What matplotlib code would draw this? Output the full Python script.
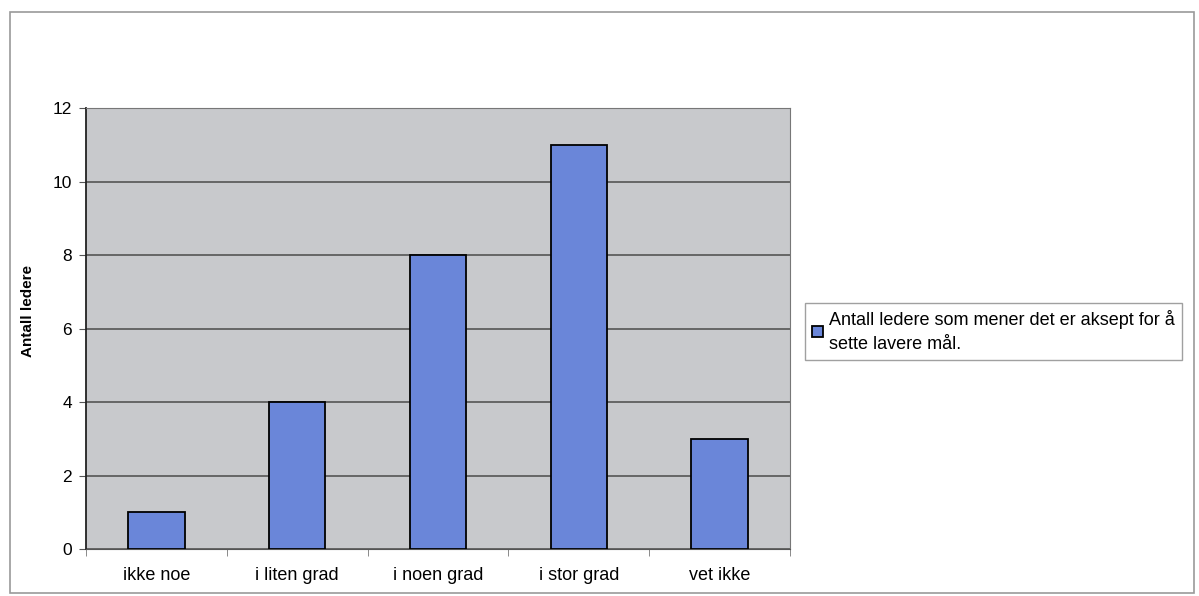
import matplotlib.pyplot as plt
from matplotlib.patches import Rectangle

categories = ["ikke noe", "i liten grad", "i noen grad", "i stor grad", "vet ikke"]
values = [1, 4, 8, 11, 3]
series_name = "Antall ledere som mener det er aksept for å\nsette lavere mål."
y_label = "Antall ledere"

plt.rcParams['font.family'] = ['Liberation Sans', 'DejaVu Sans']

fig = plt.figure(figsize=(11.99, 5.96), dpi=100)
ax = fig.add_axes([86 / 1199, 1 - 549 / 596, 704 / 1199, 441 / 596])

# outer chart border
fig.patches.append(Rectangle((10 / 1199, 3 / 596), 1184 / 1199, 581 / 596,
                             transform=fig.transFigure, fill=False,
                             edgecolor="#9a9a9a", linewidth=1.2))

ax.set_facecolor("#c8c9cc")
x = list(range(len(categories)))
bars = ax.bar(x, values, width=0.4, color="#6a86d9", edgecolor="black",
              linewidth=1.3, label=series_name, zorder=3)

ax.set_xlim(-0.5, len(categories) - 0.5)
ax.set_ylim(0, 12)
ax.set_yticks(range(0, 13, 2))
ax.yaxis.grid(True, color="#555555", linewidth=1.2, zorder=1)
ax.set_axisbelow(True)

ax.set_xticks(x)
ax.set_xticklabels(categories, fontsize=13)
ax.set_xticks([i - 0.5 for i in range(len(categories) + 1)], minor=True)
ax.tick_params(axis="x", which="major", length=0, pad=13)
ax.tick_params(axis="x", which="minor", length=5, color="#777777")
ax.tick_params(axis="y", labelsize=12.5, length=5, color="#555555", pad=5)

for side in ["top", "right"]:
    ax.spines[side].set_color("#777777")
ax.spines["left"].set_color("#222222")
ax.spines["left"].set_linewidth(1.3)
ax.spines["bottom"].set_color("#555555")

ax.set_ylabel(y_label, fontsize=11, fontweight="bold")
ax.yaxis.set_label_coords(-0.072, 0.54)

leg = fig.legend(handles=[bars], labels=[series_name], loc="upper left",
                 bbox_to_anchor=(805 / 1199, 1 - 303 / 596), fontsize=13,
                 frameon=True, fancybox=False, edgecolor="#888888",
                 handlelength=0.6, handleheight=0.6, handletextpad=0.35,
                 borderpad=0.4, borderaxespad=0)
leg.get_frame().set_linewidth(1.0)
leg.get_texts()[0].set_linespacing(1.5)

fig.savefig("out.png", dpi=100)
